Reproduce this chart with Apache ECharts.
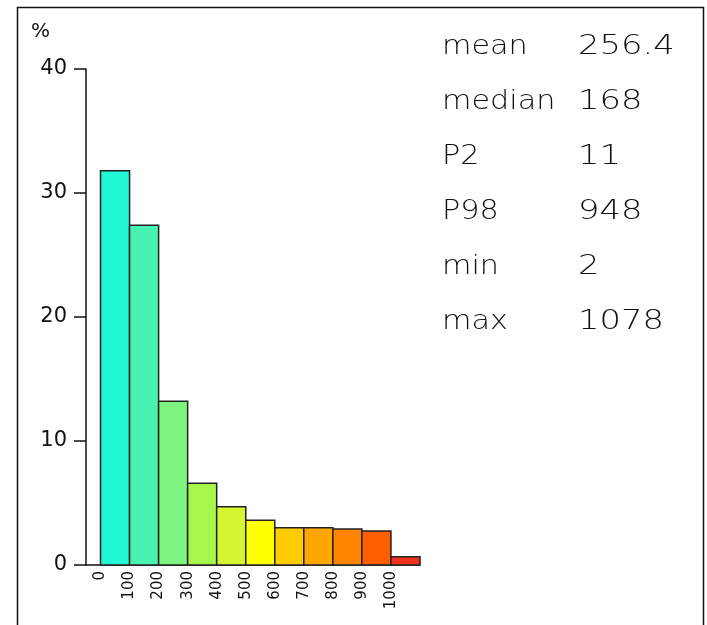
<!DOCTYPE html>
<html>
<head>
<meta charset="utf-8">
<script src="https://cdn.jsdelivr.net/npm/echarts@6/dist/echarts.min.js"></script>
<style>
html,body{margin:0;padding:0;background:#fff;}
#chart{width:707px;height:625px;}
</style>
</head>
<body>
<div id="chart"></div>
<script>
// Histogram bins (lower edge, upper edge) and percentage of values
const binStarts = [0, 100, 200, 300, 400, 500, 600, 700, 800, 900, 1000];
const binEnds = [100, 200, 300, 400, 500, 600, 700, 800, 900, 1000, 1100];
const percents = [31.8, 27.4, 13.2, 6.6, 4.7, 3.6, 3.0, 3.0, 2.9, 2.75, 0.67];
const barColors = ['#22f7d6', '#48f2b0', '#7ef580', '#a8f64c', '#d6f634', '#ffff00',
                   '#ffcc00', '#ffa600', '#ff8500', '#ff5f00', '#f0321a'];
const yTicks = [0, 10, 20, 30, 40];
const statNames = ['mean', 'median', 'P2', 'P98', 'min', 'max'];
const statValues = ['256.4', '168', '11', '948', '2', '1078'];

const chart = echarts.init(document.getElementById('chart'), null, {renderer: 'canvas'});

const data = binStarts.map((s, i) => [s, binEnds[i], percents[i], i]);

const graphics = [
  {type: 'rect', shape: {x: 17.5, y: 7.5, width: 686, height: 640},
   style: {fill: 'none', stroke: '#111', lineWidth: 1.5}, silent: true},
  {type: 'text', x: 31, y: 22,
   style: {text: '%', font: '20px "DejaVu Sans"', fill: '#111'}}
];
const rowY = [47, 102, 157, 212, 267, 322];
statNames.forEach((n, i) => {
  graphics.push({type: 'text', x: 442, y: rowY[i], scaleX: 1.12,
    style: {text: n, font: '200 27px "DejaVu Sans"', fill: '#111', verticalAlign: 'middle'}});
  graphics.push({type: 'text', x: 578, y: rowY[i], scaleX: 1.25,
    style: {text: statValues[i], font: '200 27px "DejaVu Sans"', fill: '#111', verticalAlign: 'middle'}});
});

chart.setOption({
  animation: false,
  backgroundColor: '#fff',
  grid: {left: 86, top: 69, width: 334, height: 496, containLabel: false},
  xAxis: {
    type: 'value', min: -50, max: 1100, interval: 50,
    axisLine: {show: true, onZero: false, lineStyle: {color: '#111', width: 1.5}},
    axisTick: {show: false},
    splitLine: {show: false},
    axisLabel: {
      rotate: 90, margin: 6, fontSize: 15, fontFamily: 'DejaVu Sans', color: '#111',
      showMinLabel: false, showMaxLabel: false,
      formatter: v => (v >= 0 && v <= 1000 && v % 100 === 0) ? String(v) : ''
    }
  },
  yAxis: {
    type: 'value', min: yTicks[0], max: yTicks[yTicks.length - 1], interval: 10,
    axisLine: {show: true, onZero: false, lineStyle: {color: '#111', width: 1.5}},
    axisTick: {show: true, length: 12, lineStyle: {color: '#111', width: 1.5}},
    splitLine: {show: false},
    axisLabel: {margin: 19, fontSize: 21, fontFamily: 'DejaVu Sans', color: '#111'}
  },
  series: [{
    type: 'custom',
    data: data,
    encode: {x: [0, 1], y: 2},
    renderItem: function (params, api) {
      const p0 = api.coord([api.value(0), api.value(2)]);
      const p1 = api.coord([api.value(1), 0]);
      const idx = api.value(3);
      return {
        type: 'rect',
        shape: {x: p0[0], y: p0[1], width: p1[0] - p0[0], height: p1[1] - p0[1]},
        style: {fill: barColors[idx], stroke: '#222', lineWidth: 1.5}
      };
    }
  }],
  graphic: graphics
});
</script>
</body>
</html>
